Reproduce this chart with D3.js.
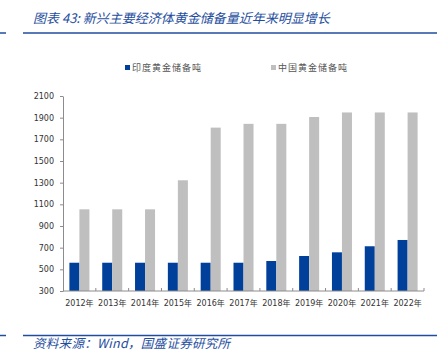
<!DOCTYPE html>
<html lang="zh">
<head>
	<meta charset="UTF-8">
	<title>图表43</title>
	<script src="https://cdn.jsdelivr.net/npm/d3@7"></script>
	<style>
		html,body{margin:0;padding:0;background:#fff;}
		svg{display:block;}
		.axis path,.axis line{stroke:#8c8c8c;}
		.axis text{fill:#333;font-family:"DejaVu Sans",sans-serif;font-size:8px;}
	</style>
</head>
<body>
	<svg id="svg" width="447" height="359"></svg>
	<script>
		var years = ["2012年","2013年","2014年","2015年","2016年","2017年","2018年","2019年","2020年","2021年","2022年"];
		var series = ["印度黄金储备吨","中国黄金储备吨"];
		var india = [561,561,561,561,561,561,577,623,657,713,771];
		var china = [1054,1054,1054,1322,1808,1843,1843,1906,1948,1948,1948];
		var yTicks = [300,500,700,900,1100,1300,1500,1700,1900,2100];
		var colors = ["#00409a","#bfbfbf"];

		var svg = d3.select("#svg");
		var blue = "#1f4e9e";

		// header / footer rules
		[[33],[335.5]].forEach(function(r){
			svg.append("line").attr("x1",0).attr("x2",6).attr("y1",r[0]).attr("y2",r[0])
				.attr("stroke",blue).attr("stroke-width",1.5);
			svg.append("line").attr("x1",23).attr("x2",437).attr("y1",r[0]).attr("y2",r[0])
				.attr("stroke",blue).attr("stroke-width",1.5);
		});

		svg.append("text").attr("x",33).attr("y",23)
			.attr("fill",blue).attr("font-size",13).attr("font-style","italic")
			.attr("font-family","'Noto Sans CJK SC',sans-serif")
			.text("图表 43:  新兴主要经济体黄金储备量近年来明显增长");

		svg.append("text").attr("x",33).attr("y",348)
			.attr("fill",blue).attr("font-size",12.5).attr("font-style","italic")
			.attr("letter-spacing",0.3)
			.attr("font-family","'Noto Sans CJK SC',sans-serif")
			.text("资料来源：Wind，国盛证券研究所");

		var x = d3.scaleBand().domain(years).range([63,424])
			.paddingInner(0.39).paddingOuter(0.195);
		var xs = d3.scaleBand().domain(series).range([0,x.bandwidth()]);
		var y = d3.scaleLinear().domain([300,2100]).range([291,96]);

		// y axis
		svg.append("g").attr("class","axis").attr("transform","translate(63,0)")
			.call(d3.axisLeft(y).tickValues(yTicks).tickSize(3).tickSizeOuter(0).tickFormat(d3.format("d")))
			.selectAll("text").attr("dx",-3);

		// bars
		var rows = years.map(function(d,i){ return {year:d, vals:[india[i],china[i]]}; });
		var grp = svg.append("g").selectAll("g").data(rows).enter().append("g")
			.attr("transform",function(d){ return "translate("+x(d.year)+",0)"; });
		grp.selectAll("rect").data(function(d){ return d.vals.map(function(v,j){ return {s:series[j],v:v,j:j}; }); })
			.enter().append("rect")
			.attr("x",function(d){ return xs(d.s); })
			.attr("width",xs.bandwidth())
			.attr("y",function(d){ return y(d.v); })
			.attr("height",function(d){ return y(300)-y(d.v); })
			.attr("fill",function(d){ return colors[d.j]; });

		// x axis with category boundary ticks
		var xg = svg.append("g").attr("class","axis").attr("transform","translate(0,291)");
		xg.append("line").attr("x1",63).attr("x2",424).attr("y1",0).attr("y2",0);
		var step = x.step();
		xg.selectAll("line.tk").data(d3.range(1,years.length+1)).enter().append("line")
			.attr("class","tk")
			.attr("x1",function(i){ return 63+i*step; }).attr("x2",function(i){ return 63+i*step; })
			.attr("y1",0).attr("y2",-3);
		xg.selectAll("text").data(years).enter().append("text")
			.attr("x",function(d){ return x(d)+x.bandwidth()/2; })
			.attr("y",15).attr("text-anchor","middle")
			.style("font-family","'DejaVu Sans','Noto Sans CJK SC',sans-serif")
			.text(function(d){ return d; });

		// legend
		var lx = [125,271];
		var lg = svg.append("g").selectAll("g").data(series).enter().append("g")
			.attr("transform",function(d,i){ return "translate("+lx[i]+",64)"; });
		lg.append("rect").attr("width",5).attr("height",5).attr("y",1)
			.attr("fill",function(d,i){ return colors[i]; });
		lg.append("text").attr("x",7).attr("y",6.5)
			.attr("fill","#555").attr("font-size",9).attr("letter-spacing",1)
			.attr("font-family","'Noto Sans CJK SC',sans-serif")
			.text(function(d){ return d; });
	</script>
</body>
</html>
